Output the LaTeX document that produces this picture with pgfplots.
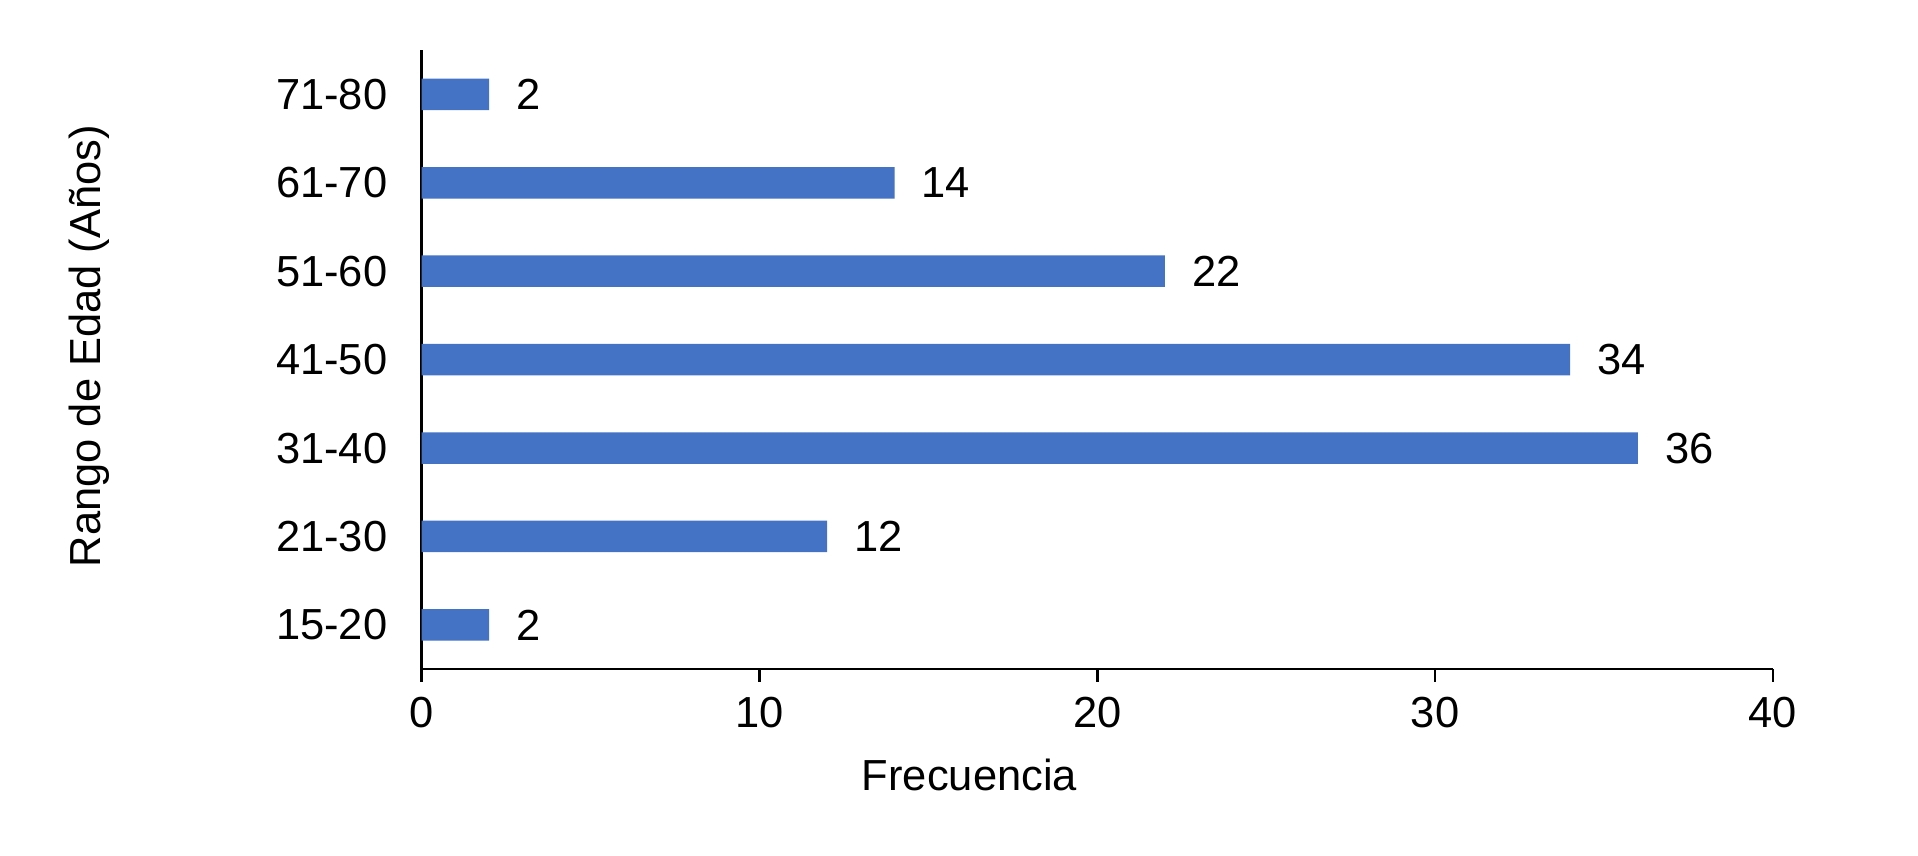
\documentclass[border=0pt]{standalone}
\usepackage{fontspec}
\setmainfont{Liberation Sans}
\usepackage{pgfplots}
\pgfplotsset{compat=1.18}
\definecolor{barblue}{HTML}{4472C4}
\begin{document}
\begin{tikzpicture}
\useasboundingbox (-158.1pt,-69.75pt) rectangle (561.1pt,250.9pt);
\begin{axis}[
  at={(0,0)}, anchor=south west,
  scale only axis, width=506.7pt, height=232.1pt,
  xbar, bar width=11.8pt,
  xmin=0, xmax=40, ymin=-0.5, ymax=6.5,
  xtick={0,10,20,30,40},
  ytick={0,...,6},
  yticklabels={15-20,21-30,31-40,41-50,51-60,61-70,71-80},
  axis x line=bottom, axis y line=left,
  axis line style={-, line width=1pt, black},
  x tick style={line width=1pt, black}, major tick length=4.7pt, tick align=outside,
  y tick style={draw=none},
  font=\fontsize{16.3}{19}\selectfont,
  /pgf/number format/assume math mode=true,
  xticklabel style={anchor=base, inner sep=0pt, yshift=-17.2pt},
  yticklabel style={anchor=east, inner sep=0pt, xshift=-8pt},
  xlabel={Frecuencia}, ylabel={Rango de Edad (Años)},
  xlabel style={at={(rel axis cs:0.4054,-0.1956)}, anchor=base},
  ylabel style={at={(rel axis cs:-0.238,0.5218)}, anchor=base},
  nodes near coords,
  every node near coord/.append style={anchor=west, inner sep=0pt, xshift=10pt, black},
  clip=false,
]
\addplot[fill=barblue, draw=none] coordinates {(2,0) (12,1) (36,2) (34,3) (22,4) (14,5) (2,6)};
\end{axis}
\end{tikzpicture}
\end{document}
